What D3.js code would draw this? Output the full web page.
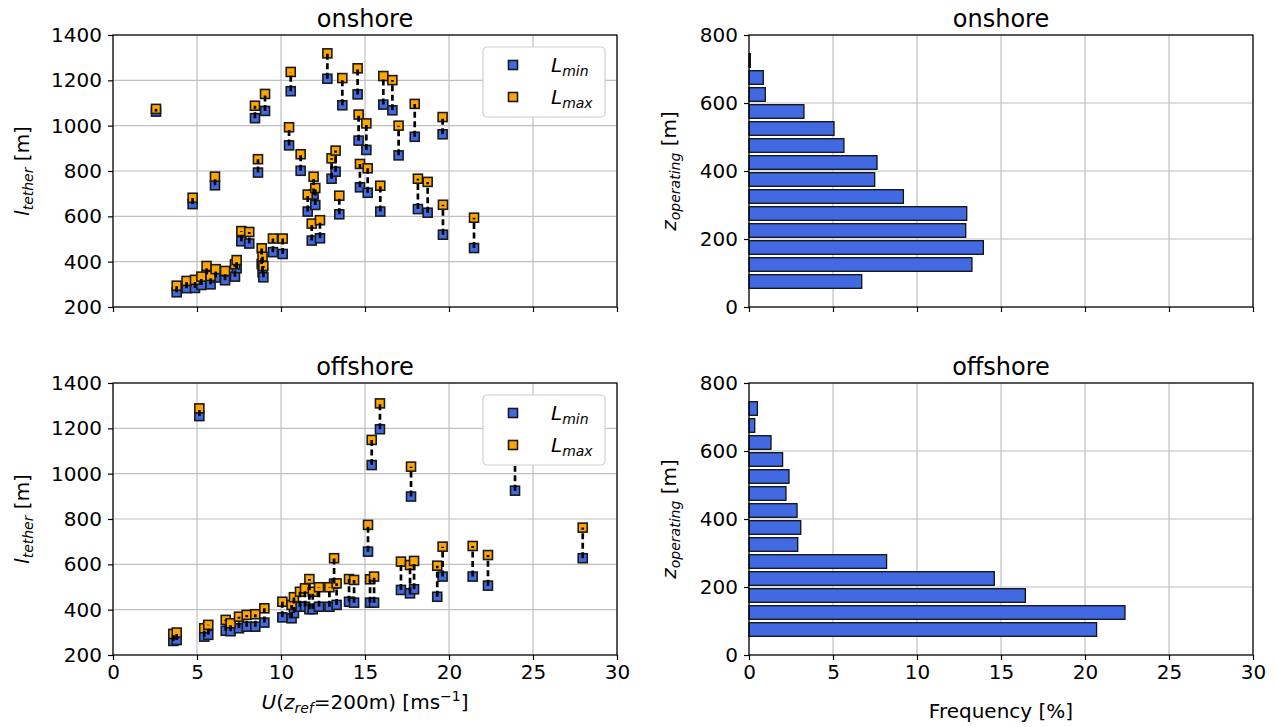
<!DOCTYPE html>
<html>
<head>
<meta charset="utf-8">
<script src="https://cdn.jsdelivr.net/npm/d3@7"></script>
<style>
  body { margin: 0; background: #fff; }
  svg { font-family: "DejaVu Sans", sans-serif; }
  .tick text { font-size: 20px; fill: #000; }
  .tick line { stroke: #000; stroke-width: 1.2; }
  .domain { display: none; }
</style>
</head>
<body>
<div id="chart"></div>
<script>
// onshore scatter: wind speed vs min / max tether length
var U_ON = [2.56, 3.79, 4.38, 4.74, 4.88, 5.26, 5.57, 5.81, 6.07, 6.11, 6.67, 7.26, 7.36, 7.64, 8.11,
  8.45, 8.63, 8.85, 8.9, 8.95, 9.05, 9.52, 10.1, 10.48, 10.58, 11.17, 11.59, 11.83, 11.94, 12.04,
  12.32, 12.76, 13.01, 13.25, 13.47, 13.65, 14.56, 14.62, 14.7, 15.08, 15.16, 15.91, 16.09, 16.63,
  17.0, 17.96, 18.15, 18.73, 19.62, 19.64, 21.49];
var LMIN_ON = [1062, 265, 283, 654, 284, 297, 344, 300, 737, 330, 318, 334, 371, 490, 480,
  1033, 793, 390, 353, 331, 1065, 442, 434, 913, 1152, 801, 621, 493, 696, 650,
  503, 1207, 766, 797, 609, 1090, 1138, 934, 728, 893, 704, 621, 1093, 1068,
  869, 951, 632, 616, 962, 519, 460];
var LMAX_ON = [1074, 294, 315, 682, 320, 334, 381, 337, 775, 367, 359, 388, 407, 535, 531,
  1088, 852, 459, 422, 381, 1140, 502, 502, 993, 1237, 874, 696, 568, 775, 725,
  583, 1319, 856, 890, 691, 1210, 1253, 1049, 831, 1010, 812, 735, 1219, 1201,
  1000, 1096, 766, 752, 1038, 651, 594];

// offshore scatter
var U_OFF = [3.59, 3.79, 5.14, 5.43, 5.67, 6.71, 7.0, 7.5, 7.96, 8.47, 9.01, 10.08, 10.63, 10.77,
  11.13, 11.43, 11.69, 11.89, 12.26, 12.88, 13.16, 13.31, 14.05, 14.35, 15.18, 15.3, 15.4, 15.54,
  15.89, 17.14, 17.68, 17.74, 17.92, 19.3, 19.62, 21.41, 22.32, 23.93, 27.96];
var LMIN_OFF = [262, 266, 1254, 281, 289, 307, 305, 318, 325, 325, 343, 366, 362, 385,
  413, 413, 402, 402, 413, 413, 515, 421, 435, 431, 656, 431, 1038, 431,
  1196, 487, 472, 899, 490, 457, 546, 546, 506, 925, 627];
var LMAX_OFF = [293, 299, 1288, 318, 333, 355, 340, 369, 377, 380, 406, 435, 421, 455,
  479, 494, 535, 479, 499, 499, 627, 516, 535, 531, 774, 534, 1149, 546,
  1310, 612, 597, 1031, 615, 594, 678, 681, 641, 1100, 762];

// operating height histograms
var Z_BINS = [75, 125, 175, 225, 275, 325, 375, 425, 475, 525, 575, 625, 675, 725];
var FREQ_ON = [6.71, 13.27, 13.95, 12.9, 12.96, 9.19, 7.48, 7.62, 5.65, 5.06, 3.27, 0.97, 0.85, 0.08];
var FREQ_OFF = [20.69, 22.38, 16.45, 14.6, 8.19, 2.9, 3.08, 2.86, 2.2, 2.38, 2.0, 1.31, 0.34, 0.5];

var X_TICKS = [0, 5, 10, 15, 20, 25, 30];
var L_TICKS = [200, 400, 600, 800, 1000, 1200, 1400];
var Z_TICKS = [0, 200, 400, 600, 800];

var BLUE = '#4169e1';
var ORANGE = '#ffa500';
var GRID = '#c0c0c0';

var svg = d3.select('#chart').append('svg')
  .attr('width', 1276)
  .attr('height', 727);

var PANEL_W = 504, PANEL_H = 272;
var LEFT_X = 113, RIGHT_X = 749, TOP_Y = 35, BOTTOM_Y = 383;

drawScatter(LEFT_X, TOP_Y, 'onshore', U_ON, LMIN_ON, LMAX_ON, false);
drawScatter(LEFT_X, BOTTOM_Y, 'offshore', U_OFF, LMIN_OFF, LMAX_OFF, true);
drawBars(RIGHT_X, TOP_Y, 'onshore', FREQ_ON, false);
drawBars(RIGHT_X, BOTTOM_Y, 'offshore', FREQ_OFF, true);

function drawGrid(g, x, y, xTicks, yTicks) {
  g.selectAll('.gx').data(xTicks).enter().append('line')
    .attr('x1', function(d) { return x(d); }).attr('x2', function(d) { return x(d); })
    .attr('y1', 0).attr('y2', PANEL_H)
    .attr('stroke', GRID).attr('stroke-width', 1.2);
  g.selectAll('.gy').data(yTicks).enter().append('line')
    .attr('x1', 0).attr('x2', PANEL_W)
    .attr('y1', function(d) { return y(d); }).attr('y2', function(d) { return y(d); })
    .attr('stroke', GRID).attr('stroke-width', 1.2);
}

function drawAxes(g, x, y, xTicks, yTicks, showXLabels) {
  g.append('g')
    .attr('transform', 'translate(0,' + PANEL_H + ')')
    .call(d3.axisBottom(x).tickValues(xTicks).tickSize(5).tickPadding(5)
      .tickFormat(showXLabels ? d3.format('d') : function() { return ''; }));
  g.append('g')
    .call(d3.axisLeft(y).tickValues(yTicks).tickSize(5).tickPadding(6).tickFormat(d3.format('d')));
  g.selectAll('.tick text').attr('font-family', 'DejaVu Sans');
  // frame
  g.append('rect')
    .attr('width', PANEL_W).attr('height', PANEL_H)
    .attr('fill', 'none').attr('stroke', '#000').attr('stroke-width', 1.2);
}

function drawTitle(g, title) {
  g.append('text')
    .attr('x', PANEL_W / 2).attr('y', -8)
    .attr('text-anchor', 'middle')
    .attr('font-size', 24)
    .text(title);
}

function drawScatter(left, top, title, u, lmin, lmax, showXLabels) {
  var g = svg.append('g').attr('transform', 'translate(' + left + ',' + top + ')');
  var x = d3.scaleLinear().domain([0, 30]).range([0, PANEL_W]);
  var y = d3.scaleLinear().domain([200, 1400]).range([PANEL_H, 0]);

  drawGrid(g, x, y, X_TICKS, L_TICKS);

  var pts = u.map(function(d, i) { return { u: d, lo: lmin[i], hi: lmax[i] }; });
  var S = 9;

  g.selectAll('.mn').data(pts).enter().append('rect')
    .attr('x', function(d) { return x(d.u) - S / 2; })
    .attr('y', function(d) { return y(d.lo) - S / 2; })
    .attr('width', S).attr('height', S)
    .attr('fill', BLUE).attr('stroke', '#1a1a1a').attr('stroke-width', 1.6);

  g.selectAll('.mx').data(pts).enter().append('rect')
    .attr('x', function(d) { return x(d.u) - S / 2; })
    .attr('y', function(d) { return y(d.hi) - S / 2; })
    .attr('width', S).attr('height', S)
    .attr('fill', ORANGE).attr('stroke', '#1a1a1a').attr('stroke-width', 1.6);

  g.selectAll('.ln').data(pts).enter().append('line')
    .attr('x1', function(d) { return x(d.u); }).attr('x2', function(d) { return x(d.u); })
    .attr('y1', function(d) { return y(d.lo); }).attr('y2', function(d) { return y(d.hi); })
    .attr('stroke', '#000').attr('stroke-width', 2.7)
    .attr('stroke-dasharray', '6,3.5');

  // legend
  var lg = g.append('g').attr('transform', 'translate(' + (PANEL_W - 134) + ',12)');
  lg.append('rect')
    .attr('width', 122).attr('height', 70).attr('rx', 4)
    .attr('fill', '#fff').attr('stroke', '#d0d0d0').attr('stroke-width', 1.2);
  [['min', BLUE, 18], ['max', ORANGE, 50]].forEach(function(e) {
    lg.append('rect')
      .attr('x', 30 - S / 2).attr('y', e[2] - S / 2)
      .attr('width', S).attr('height', S)
      .attr('fill', e[1]).attr('stroke', '#1a1a1a').attr('stroke-width', 1.6);
    var t = lg.append('text').attr('x', 68).attr('y', e[2] + 7).attr('font-size', 20);
    t.append('tspan').attr('font-style', 'italic').text('L');
    t.append('tspan').attr('font-style', 'italic').attr('font-size', 14).attr('dy', 4).text(e[0]);
  });

  drawAxes(g, x, y, X_TICKS, L_TICKS, showXLabels);
  drawTitle(g, title);

  // y label: l_tether [m]
  var yl = svg.append('text')
    .attr('transform', 'translate(29,' + (top + PANEL_H / 2) + ') rotate(-90)')
    .attr('text-anchor', 'middle').attr('font-size', 20);
  yl.append('tspan').attr('font-style', 'italic').text('l');
  yl.append('tspan').attr('font-style', 'italic').attr('font-size', 14).attr('dy', 4).text('tether');
  yl.append('tspan').attr('dy', -4).text(' [m]');

  if (showXLabels) {
    var xl = svg.append('text')
      .attr('x', left + PANEL_W / 2).attr('y', 709)
      .attr('text-anchor', 'middle').attr('font-size', 20);
    xl.append('tspan').attr('font-style', 'italic').text('U');
    xl.append('tspan').text('(');
    xl.append('tspan').attr('font-style', 'italic').text('z');
    xl.append('tspan').attr('font-style', 'italic').attr('font-size', 14).attr('dy', 4).text('ref');
    xl.append('tspan').attr('dy', -4).text('=200m) [ms');
    xl.append('tspan').attr('font-size', 14).attr('dy', -8).text('\u22121');
    xl.append('tspan').attr('dy', 8).text(']');
  }
}

function drawBars(left, top, title, freq, showXLabels) {
  var g = svg.append('g').attr('transform', 'translate(' + left + ',' + top + ')');
  var x = d3.scaleLinear().domain([0, 30]).range([0, PANEL_W]);
  var y = d3.scaleLinear().domain([0, 800]).range([PANEL_H, 0]);

  drawGrid(g, x, y, X_TICKS, Z_TICKS);

  var bars = Z_BINS.map(function(z, i) { return { z: z, f: freq[i] }; });
  var BH = 40; // bar height in metres

  g.selectAll('.bar').data(bars).enter().append('rect')
    .attr('x', x(0))
    .attr('y', function(d) { return y(d.z + BH / 2); })
    .attr('width', function(d) { return x(d.f) - x(0); })
    .attr('height', y(0) - y(BH))
    .attr('fill', BLUE).attr('stroke', '#111').attr('stroke-width', 1.3);

  drawAxes(g, x, y, X_TICKS, Z_TICKS, showXLabels);
  drawTitle(g, title);

  var yl = svg.append('text')
    .attr('transform', 'translate(676,' + (top + PANEL_H / 2) + ') rotate(-90)')
    .attr('text-anchor', 'middle').attr('font-size', 20);
  yl.append('tspan').attr('font-style', 'italic').text('z');
  yl.append('tspan').attr('font-style', 'italic').attr('font-size', 14).attr('dy', 4).text('operating');
  yl.append('tspan').attr('dy', -4).text(' [m]');

  if (showXLabels) {
    svg.append('text')
      .attr('x', left + PANEL_W / 2).attr('y', 718)
      .attr('text-anchor', 'middle').attr('font-size', 20)
      .text('Frequency [%]');
  }
}
</script>
</body>
</html>
